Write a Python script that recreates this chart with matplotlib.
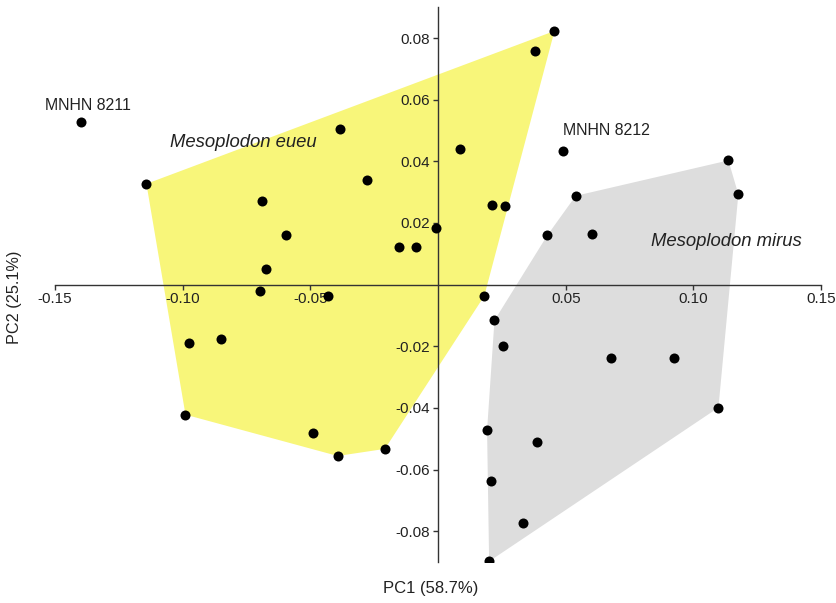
import numpy as np
import matplotlib
matplotlib.use("Agg")
import matplotlib.pyplot as plt

plt.rcParams['font.family'] = ['Liberation Sans', 'DejaVu Sans']

# M. eueu group
eueu_x = [-0.1142, 0.0456, 0.0379, 0.0087, 0.0213, 0.0261, -0.0009, 0.0181,
          -0.0383, -0.0279, -0.0690, -0.0596, -0.0673, -0.0151, -0.0086,
          -0.0698, -0.0429, -0.0976, -0.0850, -0.0989, -0.0488, -0.0393, -0.0208]
eueu_y = [0.0327, 0.0823, 0.0758, 0.0439, 0.0257, 0.0254, 0.0184, -0.0037,
          0.0504, 0.0341, 0.0271, 0.0161, 0.0051, 0.0123, 0.0123,
          -0.0021, -0.0036, -0.0190, -0.0176, -0.0422, -0.0481, -0.0556, -0.0533]
# M. mirus group
mirus_x = [0.0539, 0.1137, 0.1176, 0.0428, 0.0603, 0.0221, 0.0255, 0.0677,
           0.0925, 0.1098, 0.0192, 0.0386, 0.0209, 0.0332, 0.0200]
mirus_y = [0.0288, 0.0403, 0.0293, 0.0160, 0.0164, -0.0116, -0.0199, -0.0239,
           -0.0237, -0.0399, -0.0472, -0.0511, -0.0637, -0.0772, -0.0898]
# labelled specimens
spec_names = ["MNHN 8211", "MNHN 8212"]
spec_x = [-0.1399, 0.0491]
spec_y = [0.0529, 0.0434]

xticks = [-0.15, -0.10, -0.05, 0.05, 0.10, 0.15]
yticks = [-0.08, -0.06, -0.04, -0.02, 0.02, 0.04, 0.06, 0.08]


def hull(xs, ys):
    pts = sorted(set(zip(xs, ys)))
    def cross(o, a, b):
        return (a[0]-o[0])*(b[1]-o[1]) - (a[1]-o[1])*(b[0]-o[0])
    lower, upper = [], []
    for p in pts:
        while len(lower) >= 2 and cross(lower[-2], lower[-1], p) <= 0:
            lower.pop()
        lower.append(p)
    for p in reversed(pts):
        while len(upper) >= 2 and cross(upper[-2], upper[-1], p) <= 0:
            upper.pop()
        upper.append(p)
    return np.array(lower[:-1] + upper[:-1])


fig = plt.figure(figsize=(8.37, 6.03), dpi=100)
ax = fig.add_axes([0.0657, 0.068, 0.9153, 0.920])
ax.set_xlim(-0.15, 0.15)
ax.set_ylim(-0.09, 0.09)

h1 = hull(eueu_x, eueu_y)
h2 = hull(mirus_x, mirus_y)
ax.fill(h1[:, 0], h1[:, 1], color='#F8F67A', lw=0, zorder=1)
ax.fill(h2[:, 0], h2[:, 1], color='#DDDDDD', lw=0, zorder=1)

ax.scatter(eueu_x, eueu_y, s=52, color='black', zorder=3, lw=0)
ax.scatter(mirus_x, mirus_y, s=52, color='black', zorder=3, lw=0)
ax.scatter(spec_x, spec_y, s=52, color='black', zorder=3, lw=0)

spec_label_pos = [(-0.1370, 0.0581), (0.0659, 0.0501)]
for n, (tx, ty) in zip(spec_names, spec_label_pos):
    ax.text(tx, ty, n, ha='center', va='center', fontsize=11.4, color='#222222')

ax.text(-0.0762, 0.0460, 'Mesoplodon eueu', style='italic', fontsize=13.3,
        ha='center', va='center', color='#222222')
ax.text(0.1130, 0.0139, 'Mesoplodon mirus', style='italic', fontsize=13.3,
        ha='center', va='center', color='#222222')

for s in ['top', 'right']:
    ax.spines[s].set_visible(False)
ax.spines['left'].set_position(('data', 0))
ax.spines['bottom'].set_position(('data', 0))
for s in ['left', 'bottom']:
    ax.spines[s].set_color('#333333')
    ax.spines[s].set_linewidth(1.0)

ax.set_xticks(xticks)
ax.set_xticklabels(['%.2f' % v for v in xticks])
ax.set_yticks(yticks)
ax.set_yticklabels(['%.2f' % v for v in yticks])
ax.tick_params(axis='both', direction='out', length=3.5, width=1, color='#333333',
               labelsize=11, labelcolor='#222222', pad=2)
ax.set_facecolor('none')

fig.text(431/837, 1-589/603, 'PC1 (58.7%)', ha='center', va='center',
         fontsize=12, color='#222222')
fig.text(15/837, 1-297/603, 'PC2 (25.1%)', ha='center', va='center',
         rotation=90, fontsize=11.7, color='#222222')

fig.savefig('out.png', dpi=100, facecolor='white')
